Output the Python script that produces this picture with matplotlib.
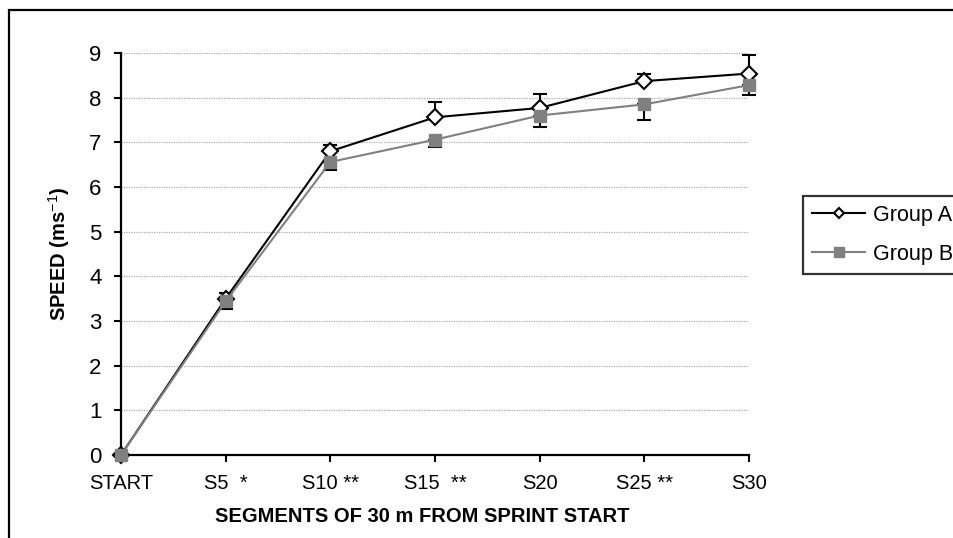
import matplotlib
matplotlib.use("Agg")
import matplotlib.pyplot as plt
from matplotlib.lines import Line2D
from matplotlib.patches import Rectangle
import numpy as np

plt.rcParams['font.family'] = ['Liberation Sans', 'DejaVu Sans']
plt.rcParams['mathtext.fontset'] = 'custom'
plt.rcParams['mathtext.rm'] = 'Liberation Sans'
plt.rcParams['mathtext.bf'] = 'Liberation Sans:bold'

# segment labels (asterisks = significant differences)
segments = ["START", "S5  *", "S10 **", "S15  **", "S20", "S25 **", "S30"]

# mean speed (m/s)
group_a = [0.0, 3.50, 6.80, 7.56, 7.77, 8.37, 8.54]
group_b = [0.0, 3.44, 6.56, 7.06, 7.60, 7.85, 8.28]

# one sided error bars: A upwards, B downwards
err_a_up = [0.0, 0.13, 0.13, 0.35, 0.32, 0.17, 0.41]
err_b_down = [0.0, 0.17, 0.17, 0.17, 0.26, 0.34, 0.22]

grey = "#808080"

fig = plt.figure(figsize=(9.54, 5.38), dpi=100)
ax = fig.add_axes([121/954, 1-455/538, 628/954, 402/538])

x = np.arange(len(segments))
zeros = np.zeros(len(segments))

ax.errorbar(x, group_a, yerr=[zeros, err_a_up], color="black", lw=1.5,
            marker="D", ms=8.5, mfc="white", mec="black", mew=1.5,
            ecolor="black", elinewidth=1.5, capsize=5, capthick=1.5,
            clip_on=False, zorder=3)
ax.errorbar(x, group_b, yerr=[err_b_down, zeros], color=grey, lw=1.5,
            marker="s", ms=8, mfc=grey, mec=grey,
            ecolor="black", elinewidth=1.5, capsize=5, capthick=1.5,
            clip_on=False, zorder=4)

ax.set_xlim(0, 6)
ax.set_ylim(0, 9)
ax.set_yticks(range(10))
ax.set_xticks(x)
ax.set_xticklabels(segments)

ax.yaxis.grid(True, color="#aaaaaa", linestyle=(0, (1, 1)), lw=0.9)
ax.set_axisbelow(True)

for s in ["top", "right"]:
    ax.spines[s].set_visible(False)
for s in ["left", "bottom"]:
    ax.spines[s].set_linewidth(1.6)

ax.tick_params(axis="y", labelsize=16, length=5, width=1.5, pad=9)
ax.tick_params(axis="x", labelsize=14.5, length=5, width=1.5, pad=9)

ax.set_xlabel("SEGMENTS OF 30 m FROM SPRINT START", fontsize=14.5,
              fontweight="bold", va="center")
ax.xaxis.set_label_coords((422-121)/628, (455-516)/402)
ax.set_ylabel(r"SPEED (ms$^{-1}$)", fontsize=14.5, fontweight="bold",
              va="center", ha="center")
ax.yaxis.set_label_coords((59-121)/628, 0.5)

handles = [
    Line2D([], [], color="black", lw=1.5, marker="D", ms=5, mfc="white",
           mec="black", mew=1.5),
    Line2D([], [], color=grey, lw=1.5, marker="s", ms=7, mfc=grey, mec=grey),
]
leg = fig.legend(handles, ["Group A", "Group B"], loc="upper left",
                 bbox_to_anchor=(803/954, 1-196/538), fontsize=15.5,
                 frameon=True, fancybox=False, borderaxespad=0,
                 handlelength=2.5, handletextpad=0.35, borderpad=0.4,
                 labelspacing=0.85)
leg.get_frame().set_edgecolor("black")
leg.get_frame().set_linewidth(1.6)

# outer border of the chart area
fig.patches.append(Rectangle((9/954, -0.5), 2, 1.5 - 10/538,
                             transform=fig.transFigure, fill=False,
                             edgecolor="black", lw=1.6))

fig.savefig("out.png", dpi=100)
